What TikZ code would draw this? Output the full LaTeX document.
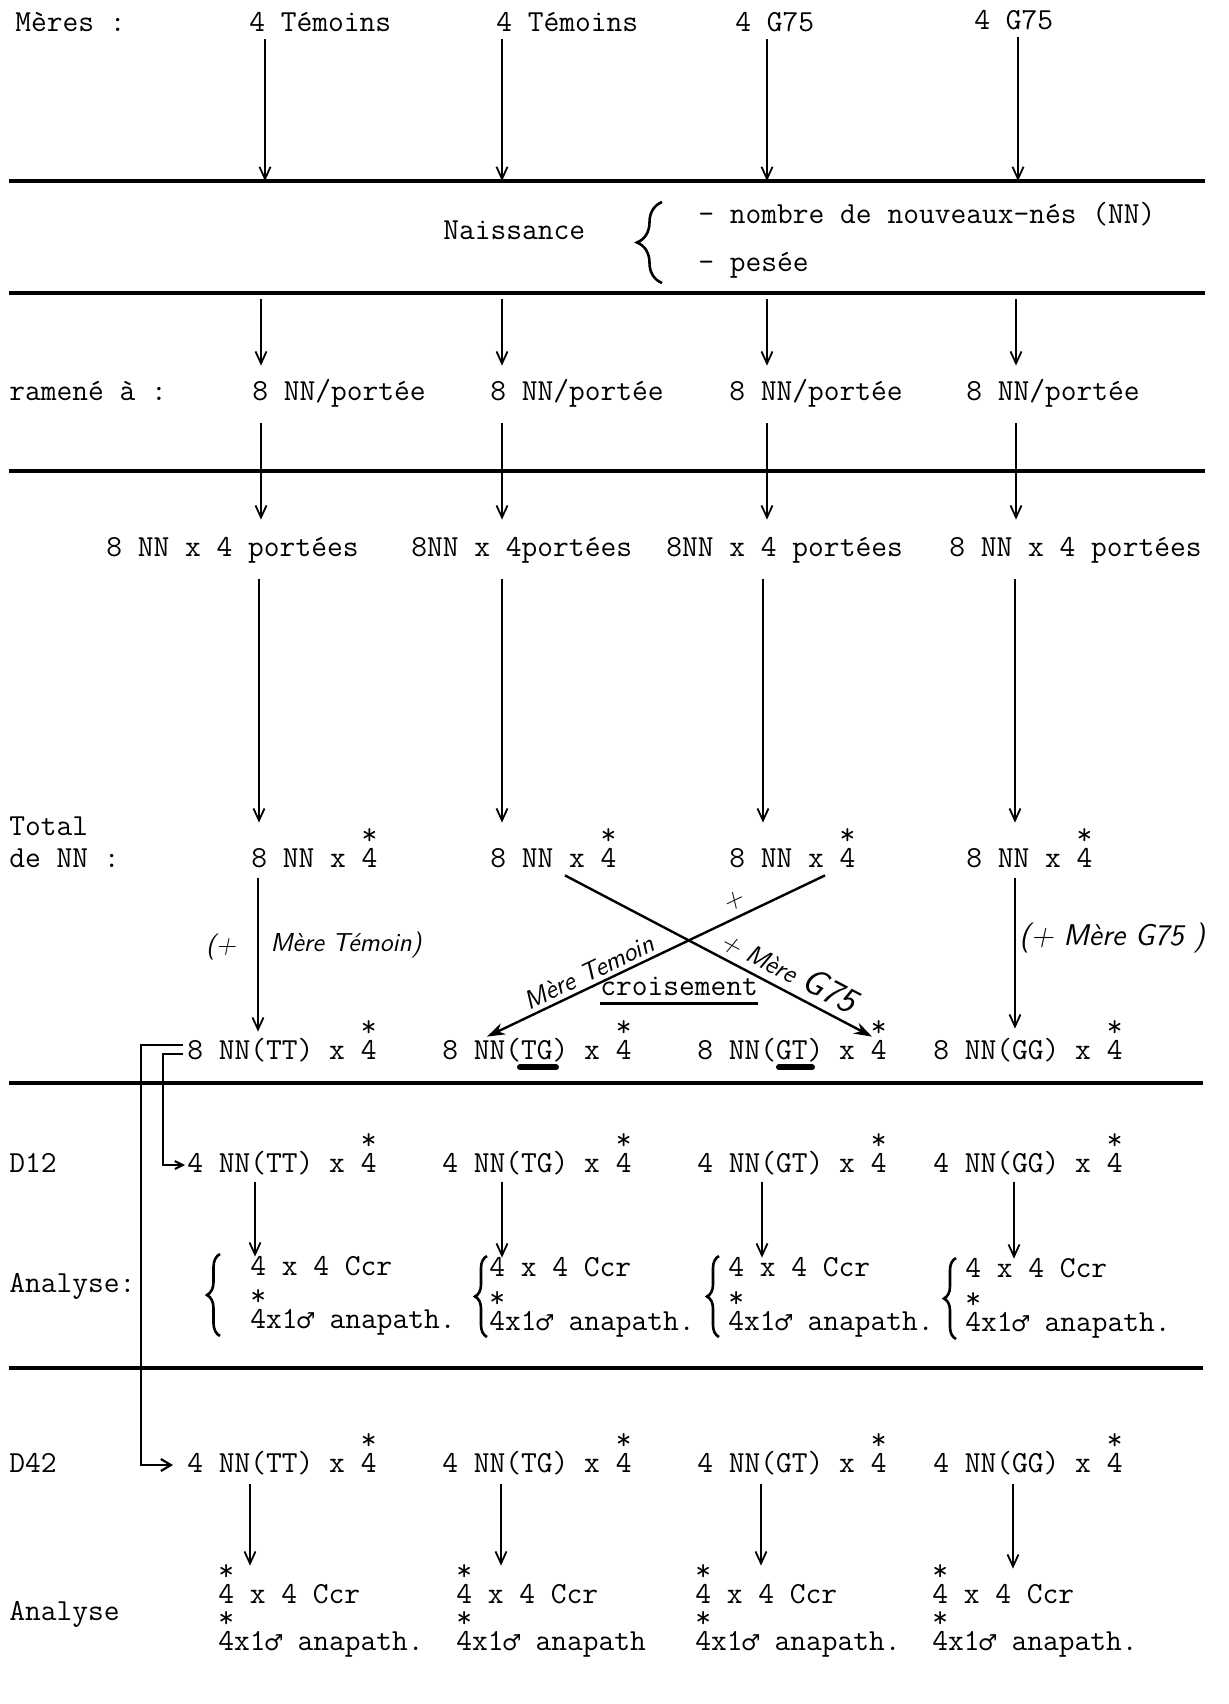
\documentclass[tikz,border=0pt]{standalone}
\usepackage{fontspec}
\newfontfamily\symf{DejaVu Sans}
\usetikzlibrary{arrows.meta,decorations.pathreplacing}
\newcommand\sq{\rlap{\raisebox{0.74em}{*}}4}
\newcommand\mymale{\makebox[0.525em]{\symf\fontsize{11}{11}\selectfont ♂}}
\newcommand\varr[4][]{\draw[arr,#1] (#2,0 |- #3) -- (#2,0 |- #4);}
\tikzset{
  tx/.style={anchor=base west, inner sep=0pt, text height=11pt, text depth=4pt,
    font=\ttfamily\fontsize{15.3}{18}\selectfont},
  hw/.style={inner sep=0pt, font=\sffamily\itshape\fontsize{13}{15}\selectfont},
  sep/.style={line width=1.7pt},
  arr/.style={line width=0.9pt, -{Straight Barb[length=6pt,width=5.5pt]}},
  carr/.style={line width=1.2pt, -{Stealth[length=9pt,width=6pt]}},
  barr/.style={line width=1pt, -{Straight Barb[length=4pt,width=4pt]}},
  br/.style={line width=1.3pt, decorate, decoration={brace, amplitude=#1}},
  uline/.style={line width=3pt, line cap=round},
}
\begin{document}
\begin{tikzpicture}[x=0.5pt, y=-0.5pt]
\useasboundingbox (0,0) rectangle (1229,1704);
% separator lines
\coordinate (L1w) at (9,181);  \coordinate (L1e) at (1205,181);
\coordinate (L2w) at (9,293);  \coordinate (L2e) at (1205,293);
\coordinate (L3w) at (9,471);  \coordinate (L3e) at (1205,471);
\coordinate (L4w) at (9,1083); \coordinate (L4e) at (1203,1083);
\coordinate (L5w) at (9,1368); \coordinate (L5e) at (1203,1368);
\foreach \l in {L1,L2,L3,L4,L5} \draw[sep] (\l w) -- (\l e);

% Meres
\node[tx] (m0) at (15,31) {Mères :};
\node[tx] (m1) at (249,31) {4 Témoins};
\node[tx] (m2) at (496,31) {4 Témoins};
\node[tx] (m3) at (735,31) {4 G75};
\node[tx] (m4) at (974,29) {4 G75};
\varr{265}{m1.south}{L1w}
\varr{502}{m2.south}{L1w}
\varr{767}{m3.south}{L1w}
\varr{1018}{m4.south}{L1w}

% Naissance
\node[tx] (nai) at (443,239) {Naissance};
\draw[br=12.5pt] (662,283) -- (662,202);
\node[tx] (nb1) at (698,223) {- nombre de nouveaux-nés (NN)};
\node[tx] (nb2) at (698,271) {- pesée};

% ramene
\node[tx] (r0) at (9,400) {ramené à :};
\node[tx] (r1) at (252,400) {8 NN/portée};
\node[tx] (r2) at (490,400) {8 NN/portée};
\node[tx] (r3) at (729,400) {8 NN/portée};
\node[tx] (r4) at (966,400) {8 NN/portée};
\varr[shorten <=3pt, shorten >=6pt]{261}{L2w}{r1.north}
\varr[shorten <=3pt, shorten >=6pt]{502}{L2w}{r2.north}
\varr[shorten <=3pt, shorten >=6pt]{767}{L2w}{r3.north}
\varr[shorten <=3pt, shorten >=6pt]{1016}{L2w}{r4.north}

% portees
\node[tx] (s1) at (106,556) {8 NN x 4 portées};
\node[tx] (s2) at (411,556) {8NN x 4portées};
\node[tx] (s3) at (666,556) {8NN x 4 portées};
\node[tx] (s4) at (949,556) {8 NN x 4 portées};
\varr[shorten <=7.5pt, shorten >=7pt]{261}{r1.south}{s1.north}
\varr[shorten <=7.5pt, shorten >=7pt]{502}{r2.south}{s2.north}
\varr[shorten <=7.5pt, shorten >=7pt]{767}{r3.south}{s3.north}
\varr[shorten <=7.5pt, shorten >=7pt]{1016}{r4.south}{s4.north}

% Total
\node[tx] (tot) at (9,835) {Total};
\node[tx] (den) at (9,867) {de NN :};
\node[tx] (n1) at (251,867) {8 NN x \sq};
\node[tx] (n2) at (490,867) {8 NN x \sq};
\node[tx] (n3) at (729,867) {8 NN x \sq};
\node[tx] (n4) at (966,867) {8 NN x \sq};
\varr[shorten <=7.5pt, shorten >=11pt]{259}{s1.south}{n1.north}
\varr[shorten <=7.5pt, shorten >=11pt]{502}{s2.south}{n2.north}
\varr[shorten <=7.5pt, shorten >=11pt]{763}{s3.south}{n3.north}
\varr[shorten <=7.5pt, shorten >=11pt]{1015}{s4.south}{n4.north}

% 8 NN(..)
\node[tx] (t1) at (187,1059) {8 NN(TT) x \sq};
\node[tx] (t2) at (442,1059) {8 NN(TG) x \sq};
\node[tx] (t3) at (697,1059) {8 NN(GT) x \sq};
\node[tx] (t4) at (933,1059) {8 NN(GG) x \sq};
\varr[shorten <=1.5pt, shorten >=2.5pt]{258}{n1.south}{t1.north}
\varr[shorten <=1.5pt, shorten >=4pt]{1015}{n4.south}{t4.north}
\draw[uline] (520,0 |- t2.south) -- (556,0 |- t2.south);
\draw[uline] (779,0 |- t3.south) -- (812,0 |- t3.south);

% handwritten side notes
\node[hw] (h1) at (221,947) {(+};
\node[hw] (h2) at (346,945) {Mère Témoin)};
\node[hw, anchor=west, font=\sffamily\itshape\fontsize{15}{17}\selectfont] (h3) at (1019,938) {(+ Mère G75 )};

% crossing
\draw[carr] (565,0 |- n2.south) -- node[hw, pos=0.7, sloped, above=3pt] (h4) {+ Mère {\fontsize{18}{18}\selectfont G75}} (872,0 |- t3.north);
\draw[carr] (825,0 |- n3.south) -- node[hw, pos=0.25, sloped, above=3pt] (h5) {+}
  node[hw, pos=0.68, sloped, above=2pt] (h6) {Mère Temoin} (487,0 |- t2.north);
\node[tx] (cr) at (600,995) {croisement};
\draw[line width=1.3pt] (cr.south west) -- (cr.south east);

% D12
\node[tx] (d12) at (9,1172) {D12};
\node[tx] (u1) at (187,1172) {4 NN(TT) x \sq};
\node[tx] (u2) at (442,1172) {4 NN(TG) x \sq};
\node[tx] (u3) at (697,1172) {4 NN(GT) x \sq};
\node[tx] (u4) at (933,1172) {4 NN(GG) x \sq};

\node[tx] (an1) at (9,1292) {Analyse:};
\node[tx] (a1) at (250,1275) {4 x 4 Ccr};
\node[tx] (a1b) at (250,1328) {\sq{}x1{\mymale} anapath.};
\node[tx] (a2) at (489,1276) {4 x 4 Ccr};
\node[tx] (a2b) at (489,1330) {\sq{}x1{\mymale} anapath.};
\node[tx] (a3) at (728,1276) {4 x 4 Ccr};
\node[tx] (a3b) at (728,1330) {\sq{}x1{\mymale} anapath.};
\node[tx] (a4) at (965,1277) {4 x 4 Ccr};
\node[tx] (a4b) at (965,1331) {\sq{}x1{\mymale} anapath.};
\draw[br=6.5pt] (220,1336) -- (220,1254);
\draw[br=6pt] (487,1337) -- (487,1256);
\draw[br=6pt] (719,1337) -- (719,1256);
\draw[br=6pt] (956,1339) -- (956,1258);
\varr[shorten <=1pt, shorten >=-2pt]{255}{u1.south}{a1.north}
\varr[shorten <=1pt, shorten >=-2pt]{502}{u2.south}{a2.north}
\varr[shorten <=1pt, shorten >=-2pt]{762}{u3.south}{a3.north}
\varr[shorten <=1pt, shorten >=-2pt]{1014}{u4.south}{a4.north}

% D42
\node[tx] (d42) at (9,1472) {D42};
\node[tx] (v1) at (187,1472) {4 NN(TT) x \sq};
\node[tx] (v2) at (442,1472) {4 NN(TG) x \sq};
\node[tx] (v3) at (697,1472) {4 NN(GT) x \sq};
\node[tx] (v4) at (933,1472) {4 NN(GG) x \sq};

\node[tx] (an2) at (9,1620) {Analyse};
\node[tx] (b1) at (218,1603) {\sq{} x 4 Ccr};
\node[tx] (b1b) at (218,1650) {\sq{}x1{\mymale} anapath.};
\node[tx] (b2) at (456,1603) {\sq{} x 4 Ccr};
\node[tx] (b2b) at (456,1650) {\sq{}x1{\mymale} anapath};
\node[tx] (b3) at (695,1603) {\sq{} x 4 Ccr};
\node[tx] (b3b) at (695,1650) {\sq{}x1{\mymale} anapath.};
\node[tx] (b4) at (932,1603) {\sq{} x 4 Ccr};
\node[tx] (b4b) at (932,1650) {\sq{}x1{\mymale} anapath.};
\varr[shorten <=2pt, shorten >=7.5pt]{250}{v1.south}{b1.north}
\varr[shorten <=2pt, shorten >=7.5pt]{501}{v2.south}{b2.north}
\varr[shorten <=2pt, shorten >=7.5pt]{761}{v3.south}{b3.north}
\varr[shorten <=2pt, shorten >=6pt]{1013}{v4.south}{b4.north}

% bracket connectors to D12 and D42
\draw[barr, shorten >=1pt] (t1.west) ++(-4,2) -- (163,1054) |- (u1.west);
\draw[barr, line width=1.1pt, -{Straight Barb[length=5pt,width=6pt]}, shorten >=7pt] (t1.west) ++(-4,-7) -- (141,1045) |- (v1.west);
\end{tikzpicture}
\end{document}
